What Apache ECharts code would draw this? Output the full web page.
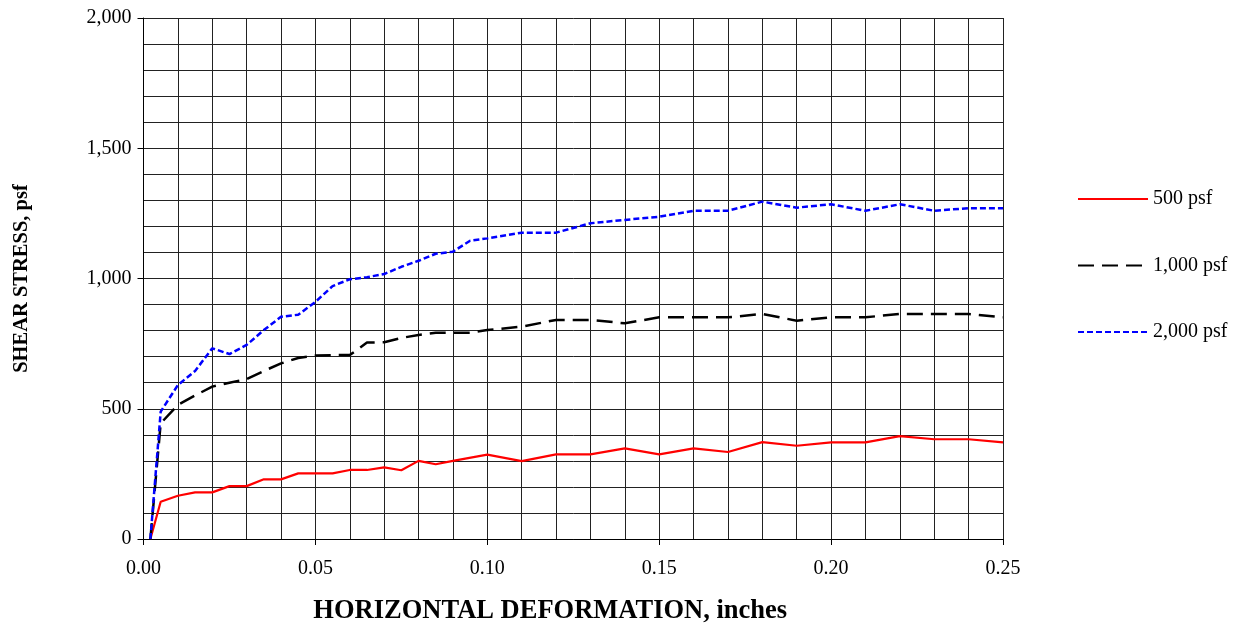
<!DOCTYPE html>
<html>
<head>
<meta charset="utf-8">
<script src="https://cdn.jsdelivr.net/npm/echarts@6/dist/echarts.min.js"></script>
<style>html,body{margin:0;padding:0;background:#fff;overflow:hidden}#c{width:1249px;height:626px}</style>
</head>
<body>
<div id="c"></div>
<script>
const seriesNames = ['500 psf', '1,000 psf', '2,000 psf'];
const xLabels = [0, 0.05, 0.10, 0.15, 0.20, 0.25];
const yLabels = [0, 500, 1000, 1500, 2000];

const x500 = [0.002, 0.005, 0.01, 0.015, 0.02, 0.025, 0.03, 0.035, 0.04, 0.045, 0.05, 0.055, 0.06, 0.065, 0.07, 0.075, 0.08, 0.085, 0.09, 0.10, 0.11, 0.12, 0.13, 0.14, 0.15, 0.16, 0.17, 0.18, 0.19, 0.20, 0.21, 0.22, 0.23, 0.24, 0.25];
const y500 = [0, 143, 166, 179, 179, 203, 203, 229, 229, 252, 252, 252, 265, 265, 275, 264, 300, 287, 300, 324, 299, 325, 325, 348, 325, 348, 334, 372, 358, 371, 371, 395, 383, 383, 371];

const x1000 = [0.002, 0.005, 0.01, 0.015, 0.02, 0.025, 0.03, 0.035, 0.04, 0.045, 0.05, 0.055, 0.06, 0.065, 0.07, 0.075, 0.08, 0.085, 0.09, 0.095, 0.10, 0.11, 0.12, 0.13, 0.14, 0.15, 0.16, 0.17, 0.18, 0.19, 0.20, 0.21, 0.22, 0.23, 0.24, 0.25];
const y1000 = [0, 444, 515, 551, 585, 600, 614, 645, 674, 695, 704, 706, 706, 754, 755, 772, 783, 792, 792, 792, 802, 815, 841, 841, 828, 851, 851, 851, 864, 838, 851, 851, 864, 864, 864, 851];

const x2000 = [0.002, 0.005, 0.01, 0.015, 0.02, 0.025, 0.03, 0.035, 0.04, 0.045, 0.05, 0.055, 0.06, 0.065, 0.07, 0.075, 0.08, 0.085, 0.09, 0.095, 0.10, 0.11, 0.12, 0.13, 0.14, 0.15, 0.16, 0.17, 0.18, 0.19, 0.20, 0.21, 0.22, 0.23, 0.24, 0.25];
const y2000 = [0, 489, 591, 645, 732, 710, 745, 802, 853, 861, 910, 971, 997, 1005, 1017, 1045, 1068, 1095, 1103, 1145, 1154, 1176, 1176, 1212, 1225, 1237, 1260, 1260, 1295, 1272, 1285, 1260, 1285, 1260, 1270, 1270];

const zip = (xs, ys) => xs.map((x, i) => [x, ys[i]]);
const font = 'Liberation Serif';

const chart = echarts.init(document.getElementById('c'), null, {renderer: 'canvas', width: 1249, height: 626});
chart.setOption({
  animation: false,
  backgroundColor: '#fff',
  grid: {left: 143.5, right: 246, top: 18, bottom: 87, containLabel: false, outerBoundsMode: 'none'},
  legend: {
    show: true,
    orient: 'vertical',
    left: 1072,
    top: 184,
    itemWidth: 70,
    itemHeight: 14,
    itemGap: 46.5,
    itemStyle: {opacity: 0},
    textStyle: {fontFamily: font, fontSize: 20, color: '#000'},
    data: seriesNames
  },
  xAxis: {
    type: 'value',
    min: 0, max: 0.25, interval: 0.05,
    name: 'HORIZONTAL DEFORMATION, inches',
    nameLocation: 'middle',
    nameGap: 59,
    nameTextStyle: {fontFamily: font, fontSize: 26.5, fontWeight: 'bold', color: '#000', padding: [0, 46, 0, 0]},
    axisLine: {show: true, onZero: false, lineStyle: {color: '#000', width: 1}},
    axisTick: {show: true, inside: false, length: 6, lineStyle: {color: '#000'}},
    axisLabel: {fontFamily: font, fontSize: 20, color: '#000', margin: 20,
      formatter: v => xLabels.some(t => Math.abs(t - v) < 1e-9) ? v.toFixed(2) : ''},
    splitLine: {show: true, lineStyle: {color: '#222', width: 1}},
    minorTick: {show: false, splitNumber: 5},
    minorSplitLine: {show: true, lineStyle: {color: '#222', width: 1}}
  },
  yAxis: {
    type: 'value',
    min: 0, max: 2000, interval: 500,
    name: 'SHEAR STRESS, psf',
    nameLocation: 'middle',
    nameGap: 111,
    nameRotate: 90,
    nameTextStyle: {fontFamily: font, fontSize: 20.5, fontWeight: 'bold', color: '#000'},
    axisLine: {show: true, lineStyle: {color: '#000', width: 1}},
    axisTick: {show: true, inside: false, length: 6, lineStyle: {color: '#000'}},
    axisLabel: {fontFamily: font, fontSize: 20, color: '#000', margin: 12,
      formatter: v => yLabels.includes(v) ? v.toLocaleString('en-US') : ''},
    splitLine: {show: true, lineStyle: {color: '#222', width: 1}},
    minorTick: {show: false, splitNumber: 5},
    minorSplitLine: {show: true, lineStyle: {color: '#222', width: 1}}
  },
  series: [
    {name: seriesNames[0], type: 'line', data: zip(x500, y500), symbol: 'none',
      lineStyle: {color: '#ff0000', width: 2.2, type: 'solid'}, itemStyle: {color: '#ff0000'}, z: 3},
    {name: seriesNames[1], type: 'line', data: zip(x1000, y1000), symbol: 'none',
      lineStyle: {color: '#000000', width: 2.5, type: [16, 8]}, itemStyle: {color: '#000'}, z: 4},
    {name: seriesNames[2], type: 'line', data: zip(x2000, y2000), symbol: 'none',
      lineStyle: {color: '#0000ff', width: 2.5, type: [6, 3]}, itemStyle: {color: '#0000ff'}, z: 5}
  ]
});
</script>
</body>
</html>
